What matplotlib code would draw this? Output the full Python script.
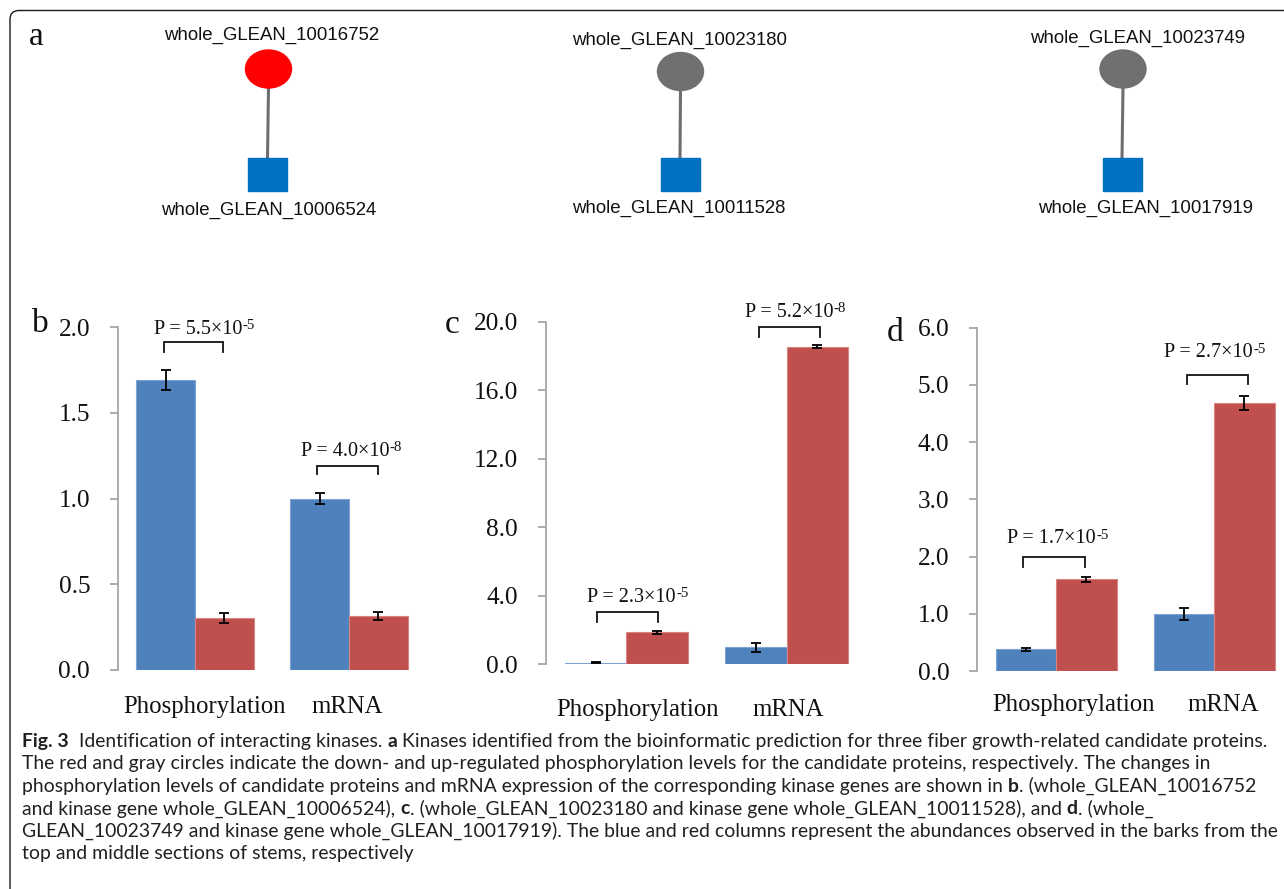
import matplotlib
matplotlib.use('Agg')
import numpy as np
import matplotlib.pyplot as plt
from matplotlib import patches, transforms, font_manager
from matplotlib.ticker import FormatStrFormatter

W, H, DPI = 1284, 889, 100

# ------------------------------------------------------------------ data
categories = ['Phosphorylation', 'mRNA']

# panel b
b_top = [1.69, 1.00]
b_top_err = [0.06, 0.03]
b_mid = [0.305, 0.315]
b_mid_err = [0.03, 0.023]
b_ticks = [0.0, 0.5, 1.0, 1.5, 2.0]
b_p_mant = ['5.5', '4.0']
b_p_exp = ['-5', '-8']

# panel c
c_top = [0.10, 1.00]
c_top_err = [0.02, 0.27]
c_mid = [1.87, 18.55]
c_mid_err = [0.08, 0.08]
c_ticks = [0.0, 4.0, 8.0, 12.0, 16.0, 20.0]
c_p_mant = ['2.3', '5.2']
c_p_exp = ['-5', '-8']

# panel d
d_top = [0.38, 1.00]
d_top_err = [0.025, 0.10]
d_mid = [1.60, 4.69]
d_mid_err = [0.045, 0.12]
d_ticks = [0.0, 1.0, 2.0, 3.0, 4.0, 5.0, 6.0]
d_p_mant = ['1.7', '2.7']
d_p_exp = ['-5', '-5']

# panel a network
proteins = ['whole_GLEAN_10016752', 'whole_GLEAN_10023180', 'whole_GLEAN_10023749']
kinases = ['whole_GLEAN_10006524', 'whole_GLEAN_10011528', 'whole_GLEAN_10017919']
protein_colors = ['#FF0000', '#707070', '#707070']
kinase_color = '#0070C0'

caption_lines = [
    [('Fig. 3', True), ('  Identification of interacting kinases. ', False), ('a', True),
     (' Kinases identified from the bioinformatic prediction for three fiber growth-related candidate proteins.', False)],
    [('The red and gray circles indicate the down- and up-regulated phosphorylation levels for the candidate proteins, respectively. The changes in', False)],
    [('phosphorylation levels of candidate proteins and mRNA expression of the corresponding kinase genes are shown in ', False),
     ('b', True), ('. (whole_GLEAN_10016752', False)],
    [('and kinase gene whole_GLEAN_10006524), ', False), ('c', True),
     ('. (whole_GLEAN_10023180 and kinase gene whole_GLEAN_10011528), and ', False), ('d', True), ('. (whole_', False)],
    [('GLEAN_10023749 and kinase gene whole_GLEAN_10017919). The blue and red columns represent the abundances observed in the barks from the', False)],
    [('top and middle sections of stems, respectively', False)],
]

# ------------------------------------------------------------------ style
SERIF = 'Liberation Serif'
SANS = 'Liberation Sans'
names = {f.name for f in font_manager.fontManager.ttflist}
if 'Liberation Sans Narrow' in names:
    CAP = 'Liberation Sans Narrow'
elif 'Lato' in names:
    CAP = 'Lato'
else:
    CAP = 'DejaVu Sans'

plt.rcParams['font.family'] = [SERIF, 'DejaVu Serif']

BLUE, BLUE_E = '#4F81BD', '#7FA3D3'
RED, RED_E = '#C0504D', '#D88583'
AXGRAY = '#A6A6A6'
INK = '#111111'

fig = plt.figure(figsize=(W / DPI, H / DPI), dpi=DPI)
fig.patch.set_facecolor('white')
renderer = fig.canvas.get_renderer()

# ------------------------------------------------------------------ frame
frame = patches.FancyBboxPatch((10, -300), 3000, (H - 10.5) + 300,
                               boxstyle='round,pad=0,rounding_size=9',
                               transform=transforms.IdentityTransform(),
                               fill=False, ec='#1a1a1a', lw=1.0)
fig.add_artist(frame)

# ------------------------------------------------------------------ panel a
ax_a = fig.add_axes([0, 0, 1, 1])
ax_a.set_xlim(0, W)
ax_a.set_ylim(H, 0)
ax_a.axis('off')

node_cx = [268.5, 680.5, 1123]
node_cy = [69, 71.5, 69]
sq_cx = [267.5, 680, 1122]
sq_cy = 174
top_lab = [(272, 35), (680, 40), (1138, 38)]
bot_lab = [(268.5, 210), (679, 208), (1146, 208)]
for i in range(3):
    ax_a.plot([node_cx[i], sq_cx[i]], [node_cy[i] + 19, sq_cy - 16], color='#6E6E6E', lw=2.2,
              solid_capstyle='butt', zorder=1)
    ax_a.add_patch(patches.Ellipse((node_cx[i], node_cy[i]), 46, 38, color=protein_colors[i], zorder=2))
    ax_a.add_patch(patches.Rectangle((sq_cx[i] - 19.5, sq_cy - 16.5), 39, 33, color=kinase_color, zorder=2))
    ax_a.text(top_lab[i][0], top_lab[i][1], proteins[i], family=SANS, fontsize=13.4,
              ha='center', va='center', color=INK)
    ax_a.text(bot_lab[i][0], bot_lab[i][1], kinases[i], family=SANS, fontsize=13.4,
              ha='center', va='center', color=INK)


def letter(ch, x, y):
    fig.text(x / W, 1 - y / H, ch, family=SERIF, fontsize=24, ha='left', va='baseline', color=INK)


letter('a', 29, 45)


def fig_text_width(s, size, family, weight='normal'):
    t = fig.text(0, 0, s, fontsize=size, family=family, fontweight=weight)
    wd = t.get_window_extent(renderer).width
    t.remove()
    return wd


def p_label(cx, by, mant, exp, size=14.5):
    """P = m×10^e centred at pixel x cx, baseline at pixel y by (from top)."""
    main = 'P = ' + mant + '×10'
    ssize = size * 0.74
    wm = fig_text_width(main, size, SERIF)
    ws = fig_text_width(exp, ssize, SERIF)
    left = cx - (wm + ws) / 2
    fig.text(left / W, 1 - by / H, main, fontsize=size, family=SERIF, ha='left', va='baseline', color=INK)
    fig.text((left + wm + 0.5) / W, 1 - (by - 4.5) / H, exp, fontsize=ssize, family=SERIF,
             ha='left', va='baseline', color=INK)


# ------------------------------------------------------------------ bar panels
layouts = {
    'b': dict(box=(118, 426, 327, 670), xpad=19, letter=(32, 332), lab_x=[0.062, 0.987],
              brk_x=[(-0.2, 0.18), (0.79, 1.19)], brk_y=[1.91, 1.19], brk_leg=[1.854, 1.14],
              txt=[(0.058, 1.961), (1.013, 1.248)]),
    'c': dict(box=(546, 867, 321.7, 664.3), xpad=25, letter=(445, 333), lab_x=[0.072, 1.008],
              brk_x=[(-0.18, 0.2), (0.83, 1.21)], brk_y=[3.07, 19.67], brk_leg=[2.49, 19.13],
              txt=[(0.072, 3.65), (1.052, 20.29)]),
    'd': dict(box=(977.3, 1293, 327.7, 671), xpad=16.5, letter=(887, 341), lab_x=[0.11, 1.06],
              brk_x=[(-0.21, 0.18), (0.83, 1.215)], brk_y=[1.99, 5.18], brk_leg=[1.82, 5.02],
              txt=[(0.011, 2.23), (1.002, 5.48)]),
}


def bar_panel(key, top, top_err, mid, mid_err, ticks, mant, exps):
    lay = layouts[key]
    x0, x1, yt, yb = lay['box']
    ax = fig.add_axes([x0 / W, (H - yb) / H, (x1 - x0) / W, (yb - yt) / H])
    ax.set_xlim(-0.5, 1.5)
    ax.set_ylim(ticks[0], ticks[-1])
    ax.patch.set_alpha(0)
    xs = np.arange(len(categories))
    w = 0.383
    ek = dict(ecolor='black', elinewidth=1.3, capsize=3.6, capthick=1.3)
    ax.bar(xs - w / 2, top, w, yerr=top_err, color=BLUE, edgecolor=BLUE_E, linewidth=0.8, error_kw=ek)
    ax.bar(xs + w / 2, mid, w, yerr=mid_err, color=RED, edgecolor=RED_E, linewidth=0.8, error_kw=ek)
    for s in ['top', 'right', 'bottom']:
        ax.spines[s].set_visible(False)
    ax.spines['left'].set_color(AXGRAY)
    ax.spines['left'].set_linewidth(1.3)
    ax.set_yticks(ticks)
    ax.yaxis.set_major_formatter(FormatStrFormatter('%.1f'))
    ax.tick_params(axis='y', direction='out', length=6, width=1.3, color=AXGRAY, pad=14,
                   labelsize=18.3, labelcolor=INK)
    ax.set_xticks(lay['lab_x'])
    ax.set_xticklabels(categories)
    ax.tick_params(axis='x', length=0, pad=lay['xpad'], labelsize=17.8, labelcolor=INK)
    for i in range(2):
        xa, xb = lay['brk_x'][i]
        ya, yl = lay['brk_y'][i], lay['brk_leg'][i]
        ax.plot([xa, xa, xb, xb], [yl, ya, ya, yl], color=INK, lw=1.3, clip_on=False,
                solid_joinstyle='miter')
        tx, ty = lay['txt'][i]
        px, py = ax.transData.transform((tx, ty))
        p_label(px, H - py, mant[i], exps[i])
    letter(key, *lay['letter'])
    return ax


bar_panel('b', b_top, b_top_err, b_mid, b_mid_err, b_ticks, b_p_mant, b_p_exp)
bar_panel('c', c_top, c_top_err, c_mid, c_mid_err, c_ticks, c_p_mant, c_p_exp)
bar_panel('d', d_top, d_top_err, d_mid, d_mid_err, d_ticks, d_p_mant, d_p_exp)

# ------------------------------------------------------------------ caption


def draw_line(segs, px, py, size, draw=True):
    sp = fig_text_width('x x', size, CAP) - fig_text_width('xx', size, CAP)
    x = px
    for s, bold in segs:
        lead = len(s) - len(s.lstrip(' '))
        trail = len(s) - len(s.rstrip(' '))
        core = s.strip(' ')
        wt = 'bold' if bold else 'normal'
        x += lead * sp
        if draw:
            fig.text(x / W, 1 - py / H, core, fontsize=size, family=CAP, fontweight=wt,
                     ha='left', va='baseline', color='#231F20', wrap=False)
        x += fig_text_width(core, size, CAP, wt)
        x += trail * sp
    return x - px


CAP_X = 22
base_size = 13.0
wline = draw_line(caption_lines[0], CAP_X, 0, base_size, draw=False)
cap_size = base_size * 1244 / wline
cap_base = [747, 769.5, 792, 814.5, 837, 859.5]
for segs, yb in zip(caption_lines, cap_base):
    draw_line(segs, CAP_X, yb, cap_size)

fig.savefig('out.png', dpi=DPI, facecolor='white')
